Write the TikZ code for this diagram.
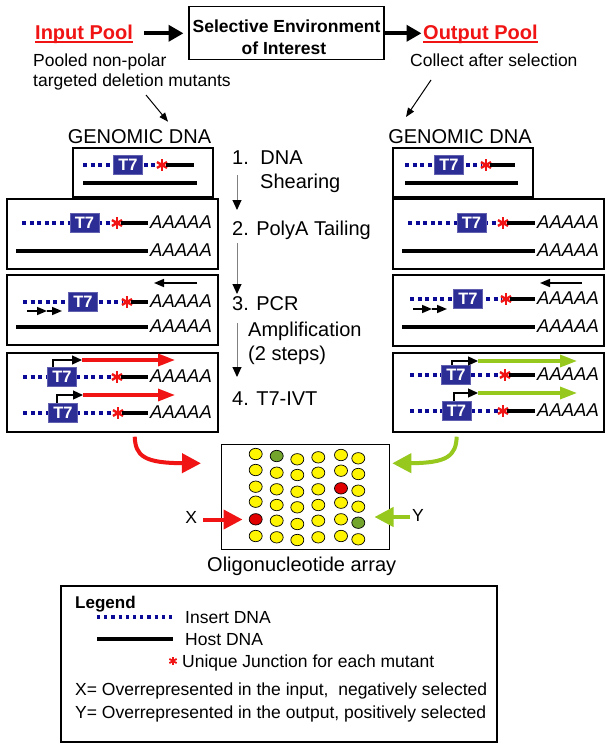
\documentclass[tikz,border=0pt]{standalone}
\usepackage{fontspec}
\setmainfont{Liberation Sans}
\usetikzlibrary{arrows.meta,calc}
\definecolor{dnablue}{RGB}{10,10,150}
\definecolor{tsbox}{RGB}{45,45,150}
\definecolor{myred}{RGB}{240,20,20}
\definecolor{mygreen}{RGB}{150,200,30}
\definecolor{spotG}{RGB}{115,165,45}
\definecolor{spotY}{RGB}{255,245,0}
\definecolor{spotR}{RGB}{225,0,0}
\newcommand{\fs}[1]{\fontsize{#1}{#1}\selectfont}
\newcommand{\junc}[4]{\foreach \a in {270,330,30,90,150,210} \draw[myred, line width=#4] (#1,#2) -- ++(\a:#3);}
\newcommand{\dnarow}[6]{%
  \draw[insert] (#2,#6) -- (#4-4,#6);
  \node[tsev] (#1t) at (#3,#6) {T7};
  \junc{#4}{#6}{5.8}{2.4pt}
  \draw[host] (#4+4,#6) -- (#5,#6);
}
\tikzset{
  frm/.style={draw=black, line width=1.1pt, inner sep=0pt},
  insert/.style={draw=dnablue, line width=4pt, dash pattern=on 4pt off 3.6pt},
  host/.style={draw=black, line width=4pt},
  tsev/.style={fill=tsbox, draw=tsbox!75!white, line width=0.6pt, minimum width=29pt, minimum height=19pt, inner sep=0pt, text=white, font=\fs{16.5}\bfseries},
  polya/.style={anchor=base west, inner sep=0pt, font=\fs{18.5}\itshape},
  txt/.style={anchor=base west, inner sep=0pt, font=\fs{17.5}},
  steplbl/.style={anchor=base west, inner sep=0pt, font=\fs{20}},
  thickarrow/.style={draw=black, line width=4.2pt, -{Triangle[length=15pt,width=16pt]}},
  thinarrow/.style={draw=black, line width=1pt, -{Triangle[length=9pt,width=7pt]}},
  steparrow/.style={draw=black!50, line width=1pt, -{Triangle[length=10pt,width=9pt,color=black]}},
  primer/.style={draw=black, line width=1.6pt, -{Triangle[length=10pt,width=8pt]}},
  bent/.style={draw=black, line width=1.3pt, -{Triangle[length=10pt,width=9pt]}},
  redtx/.style={draw=myred, line width=3.3pt, -{Triangle[length=17pt,width=12pt]}},
  greentx/.style={draw=mygreen, line width=3.3pt, -{Triangle[length=17pt,width=12pt]}},
  bigred/.style={draw=myred, line width=4pt, -{Triangle[length=19pt,width=19pt]}},
  biggreen/.style={draw=mygreen, line width=4pt, -{Triangle[length=19pt,width=19pt]}},
}
\begin{document}
\begin{tikzpicture}[x=1pt,y=-1pt]
\fill[white] (0,0) rectangle (612,752);
\useasboundingbox (0,0) rectangle (612,752);

% ---------- top ----------
\node[font=\fs{20}\bfseries, text=myred, anchor=base west, inner sep=0pt] (inpool) at (35,39.5) {Input Pool};
\draw[myred, line width=1.8pt] ([yshift=-2.3pt]inpool.base west) -- ([yshift=-2.3pt]inpool.base east);
\node[font=\fs{20}\bfseries, text=myred, anchor=base west, inner sep=0pt] (outpool) at (423,39.5) {Output Pool};
\draw[myred, line width=1.8pt] ([yshift=-2.3pt]outpool.base west) -- ([yshift=-2.3pt]outpool.base east);
\node[frm, minimum width=195pt, minimum height=52.6pt] (selenv) at (286.5,33) {};
\node[font=\fs{17.5}\bfseries, anchor=base, inner sep=0pt] (sel1) at (286.5,33) {Selective Environment};
\node[font=\fs{17.5}\bfseries, anchor=base, inner sep=0pt] (sel2) at (284,54.5) {of Interest};
\coordinate (a1s) at (144,33.3); \coordinate (a1e) at (183.5,33.3);
\coordinate (a2s) at (384,33.3); \coordinate (a2e) at (421.5,33.3);
\draw[thickarrow] (a1s) -- (a1e);
\draw[thickarrow] (a2s) -- (a2e);
\node[txt] (pooled1) at (33,66.2) {Pooled non-polar};
\node[txt] (pooled2) at (33,86.2) {targeted deletion mutants};
\node[txt] (collect) at (410,66.2) {Collect after selection};
\coordinate (d1s) at (146,95); \coordinate (d1e) at (168,121.7);
\coordinate (d2s) at (431,80); \coordinate (d2e) at (406,117);
\draw[thinarrow] (d1s) -- (d1e);
\draw[thinarrow] (d2s) -- (d2e);

% ---------- genomic DNA labels ----------
\node[font=\fs{20}, anchor=base, inner sep=0pt] (gdl) at (139.5,143.5) {GENOMIC DNA};
\node[font=\fs{20}, anchor=base, inner sep=0pt] (gdr) at (460,143.5) {GENOMIC DNA};

% ---------- frames ----------
\node[frm, minimum width=140pt, minimum height=49pt] (lb1) at (143,172.5) {};
\node[frm, minimum width=211pt, minimum height=70pt] (lb2) at (112.5,234) {};
\node[frm, minimum width=211pt, minimum height=70pt] (lb3) at (112.5,310) {};
\node[frm, minimum width=211pt, minimum height=79pt] (lb4) at (112.5,392.5) {};
\node[frm, minimum width=140pt, minimum height=49pt] (rb1) at (463,172.5) {};
\node[frm, minimum width=211pt, minimum height=70pt] (rb2) at (498.5,234) {};
\node[frm, minimum width=211pt, minimum height=71pt] (rb3) at (498.5,310.5) {};
\node[frm, minimum width=211pt, minimum height=79pt] (rb4) at (498.5,392.5) {};

% ---------- box 1 ----------
\dnarow{l1}{83}{128}{162}{194}{165}
\draw[host] (83,182.5) -- (197,182.5);
\dnarow{r1}{405}{449}{486}{515}{165}
\draw[host] (405,182.5) -- (518,182.5);

% ---------- box 2 ----------
\dnarow{l2}{22}{84.5}{117}{148}{223}
\node[polya] (l2a) at (150,228.5) {AAAAA};
\draw[host] (16,251) -- (148,251);
\node[polya] (l2b) at (150,256) {AAAAA};
\dnarow{r2}{408}{471.5}{503}{535}{223}
\node[polya] (r2a) at (537,228.5) {AAAAA};
\draw[host] (402,251) -- (535,251);
\node[polya] (r2b) at (537,256) {AAAAA};

% ---------- box 3 ----------
\dnarow{l3}{23}{83}{127}{148}{302}
\node[polya] (l3a) at (150,307.5) {AAAAA};
\draw[host] (16,327) -- (148,327);
\node[polya] (l3b) at (150,332) {AAAAA};
\coordinate (lp1s) at (197,283); \coordinate (lp1e) at (154,283);
\draw[primer] (lp1s) -- (lp1e);
\coordinate (lp2s) at (27,311); \coordinate (lp2m) at (47,311); \coordinate (lp2e) at (62,311);
\draw[primer] (lp2s) -- (lp2m);
\draw[primer] (lp2m) -- (lp2e);
\dnarow{r3}{410}{468}{506}{535}{299}
\node[polya] (r3a) at (537,304.5) {AAAAA};
\draw[host] (402,327) -- (535,327);
\node[polya] (r3b) at (537,332) {AAAAA};
\coordinate (rp1s) at (582,283); \coordinate (rp1e) at (540,283);
\draw[primer] (rp1s) -- (rp1e);
\coordinate (rp2s) at (413,309); \coordinate (rp2m) at (432,309); \coordinate (rp2e) at (447,309);
\draw[primer] (rp2s) -- (rp2m);
\draw[primer] (rp2m) -- (rp2e);

% ---------- box 4 ----------
\dnarow{l4a}{23}{62}{117}{148}{377}
\node[polya] (l4aa) at (150,382.5) {AAAAA};
\dnarow{l4b}{23}{63}{118}{148}{413}
\node[polya] (l4ba) at (150,418.5) {AAAAA};
\coordinate (lt1) at (82,360); \coordinate (lt1e) at (175,360);
\coordinate (lt2) at (83,395); \coordinate (lt2e) at (175,395);
\draw[bent] ([xshift=-9pt]l4at.north) |- (lt1);
\draw[redtx] (lt1) -- (lt1e);
\draw[bent] ([xshift=-6pt]l4bt.north) |- (lt2);
\draw[redtx] (lt2) -- (lt2e);

\dnarow{r4a}{410}{456}{505}{535}{375}
\node[polya] (r4aa) at (537,380.5) {AAAAA};
\dnarow{r4b}{410}{456.5}{503}{535}{411}
\node[polya] (r4ba) at (537,416.5) {AAAAA};
\coordinate (rt1) at (478,361); \coordinate (rt1e) at (577,361);
\coordinate (rt2) at (478,393); \coordinate (rt2e) at (577,393);
\draw[bent] ([xshift=-4pt]r4at.north) |- (rt1);
\draw[greentx] (rt1) -- (rt1e);
\draw[bent] ([xshift=-2.5pt]r4bt.north) |- (rt2);
\draw[greentx] (rt2) -- (rt2e);

% ---------- steps ----------
\node[steplbl] (s1) at (232,164.5) {1.\hspace{11.5pt}DNA};
\node[steplbl] (s1b) at (260,188.3) {Shearing};
\node[steplbl] (s2) at (232,235) {2. PolyA Tailing};
\node[steplbl] (s3) at (232,310.7) {3. PCR};
\node[steplbl] (s3b) at (248,336.7) {Amplification};
\node[steplbl] (s3c) at (248,360) {(2 steps)};
\node[steplbl] (s4) at (232,405) {4. T7-IVT};
\coordinate (v1s) at (237,175); \coordinate (v1e) at (237,210);
\coordinate (v2s) at (237,243); \coordinate (v2e) at (237,294);
\coordinate (v3s) at (237,323); \coordinate (v3e) at (237,377);
\draw[steparrow] (v1s) -- (v1e);
\draw[steparrow] (v2s) -- (v2e);
\draw[steparrow] (v3s) -- (v3e);

% ---------- array ----------
\node[frm, minimum width=167.5pt, minimum height=105.3pt] (arr) at (305.6,496.7) {};
\foreach \x/\y/\c in {
 255.7/454/Y, 276.7/456/G, 297.3/459.3/Y, 318.3/457.3/Y, 341/455/Y, 358.3/458.3/Y,
 255.7/470/Y, 276.7/472.7/Y, 297.3/475/Y, 318.3/472.7/Y, 341/470.7/Y, 358.3/474/Y,
 255.7/486.7/Y, 276.7/489.3/Y, 297.3/491.7/Y, 318.3/489.3/Y, 341/488.3/R, 358.3/490.7/Y,
 255.7/501.7/Y, 276.7/505/Y, 297.3/507.3/Y, 318.3/505/Y, 341/502.7/Y, 358.3/506.7/Y,
 255.7/519.3/R, 276.7/520.7/Y, 297.3/524/Y, 318.3/520.7/Y, 341/519.3/Y, 358.3/522.7/G,
 255.7/536/Y, 276.7/537.3/Y, 297.3/540/Y, 318.3/537.3/Y, 341/536/Y, 358.3/539.3/Y}
 \draw[fill=spot\c, line width=0.7pt] (\x,\y) ellipse [x radius=6.5, y radius=5.7];
\node[font=\fs{20}, anchor=base, inner sep=0pt] (arrlbl) at (301.7,571.7) {Oligonucleotide array};

\coordinate (crs) at (134.7,436.7); \coordinate (cre) at (201,463.3);
\draw[bigred] (crs) .. controls (135.5,456) and (144,463) .. (cre);
\coordinate (cgs) at (456.7,436.7); \coordinate (cge) at (392.3,463.3);
\draw[biggreen] (cgs) .. controls (456,456) and (447,463) .. (cge);

\node[font=\fs{17.5}, anchor=base, inner sep=0pt] (xl) at (191.3,523.3) {X};
\node[font=\fs{17.5}, anchor=base, inner sep=0pt] (yl) at (418,521.7) {Y};
\coordinate (xas) at (203,519.5); \coordinate (xae) at (242.5,519.5);
\draw[bigred] (xas) -- (xae);
\coordinate (yas) at (410,517); \coordinate (yae) at (374.5,517);
\draw[biggreen] (yas) -- (yae);

% ---------- legend ----------
\node[frm, minimum width=436pt, minimum height=156pt] (legend) at (279,664) {};
\node[font=\fs{17}\bfseries, anchor=base west, inner sep=0pt] (legt) at (75,608) {Legend};
\coordinate (li1) at (97,617); \coordinate (li2) at (175,617);
\draw[draw=dnablue, line width=3.2pt, dash pattern=on 3.2pt off 4pt] (li1) -- (li2);
\node[txt] (legi) at (185,623) {Insert DNA};
\coordinate (lh1) at (97,639); \coordinate (lh2) at (173,639);
\draw[host] (lh1) -- (lh2);
\node[txt] (legh) at (185,645) {Host DNA};
\junc{173}{661}{4.2}{1.8pt}
\node[txt] (legu) at (182,667) {Unique Junction for each mutant};
\node[txt] (legx) at (75,695) {X= Overrepresented in the input,\ \ negatively selected};
\node[txt] (legy) at (75,718) {Y= Overrepresented in the output, positively selected};
\end{tikzpicture}
\end{document}
